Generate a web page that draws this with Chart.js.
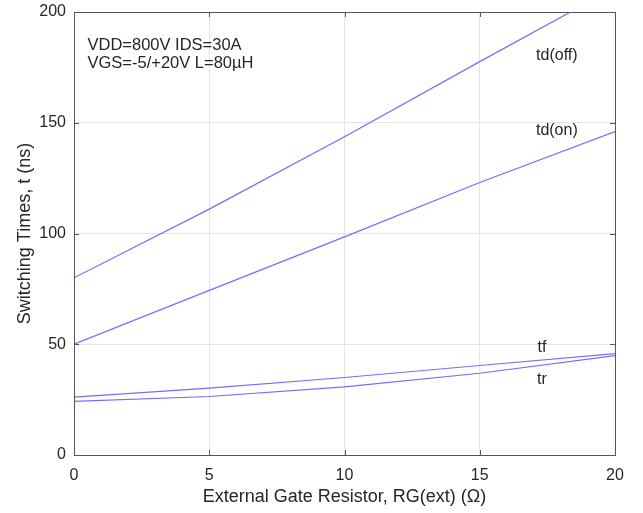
<!DOCTYPE html>
<html>
<head>
<meta charset="utf-8">
<script src="https://cdn.jsdelivr.net/npm/chart.js@4/dist/chart.umd.min.js"></script>
<style>
  body { margin: 0; background: #fff; }
  canvas { display: block; }
</style>
</head>
<body>
<canvas id="swChart" width="643" height="513"></canvas>
<script>
// gate resistor values (ohm)
const rg = [0, 5, 10, 15, 20];
// switching times (ns)
const tdOff = [80, 111, 143.7, 177.6, 211];
const tdOn = [50, 74.3, 98.5, 123, 146];
const tf = [26.1, 30.2, 35, 40.4, 45.8];
const tr = [24.2, 26.4, 30.8, 36.9, 44.9];

const curveLabels = [
  { text: "td(off)", x: 17.85, y: 180.5 },
  { text: "td(on)", x: 17.85, y: 146.5 },
  { text: "tf", x: 17.3, y: 48.6 },
  { text: "tr", x: 17.3, y: 34 },
];
const noteLines = ["VDD=800V IDS=30A", "VGS=-5/+20V L=80µH"];

const lineColor = "#6f6fff";
const textColor = "#262626";
const fontFamily = "'Liberation Sans', Arial, sans-serif";

function toPoints(ys) {
  return rg.map((x, i) => ({ x: x, y: ys[i] }));
}

function series(ys) {
  return {
    data: toPoints(ys),
    borderColor: lineColor,
    borderWidth: 1.2,
    pointRadius: 0,
    fill: false,
    tension: 0,
  };
}

// text labels and inside ticks, octave style
const decorations = {
  id: "decorations",
  afterDraw(chart) {
    const c = chart.ctx;
    const xs = chart.scales.x;
    const ys = chart.scales.y;
    const a = chart.chartArea;
    c.save();
    c.strokeStyle = "#555";
    c.lineWidth = 1;
    c.beginPath();
    [0, 5, 10, 15, 20].forEach((v) => {
      const px = Math.round(xs.getPixelForValue(v)) + 0.5;
      c.moveTo(px, a.bottom); c.lineTo(px, a.bottom - 5);
      c.moveTo(px, a.top); c.lineTo(px, a.top + 5);
    });
    [0, 50, 100, 150, 200].forEach((v) => {
      const py = Math.round(ys.getPixelForValue(v)) + 0.5;
      c.moveTo(a.left, py); c.lineTo(a.left + 5, py);
      c.moveTo(a.right, py); c.lineTo(a.right - 5, py);
    });
    c.stroke();
    c.strokeRect(a.left + 0.5, a.top + 0.5, a.right - a.left, a.bottom - a.top);

    c.fillStyle = textColor;
    c.font = "16px " + fontFamily;
    c.textBaseline = "middle";
    c.textAlign = "center";
    curveLabels.forEach((l) => {
      c.fillText(l.text, xs.getPixelForValue(l.x), ys.getPixelForValue(l.y));
    });
    c.textAlign = "left";
    c.font = "16.5px " + fontFamily;
    c.fillText(noteLines[0], xs.getPixelForValue(0.5), ys.getPixelForValue(185));
    c.fillText(noteLines[1], xs.getPixelForValue(0.5), ys.getPixelForValue(176.8));
    c.restore();
  },
};

const ctx = document.getElementById("swChart");
new Chart(ctx, {
  type: "line",
  data: {
    datasets: [series(tdOff), series(tdOn), series(tf), series(tr)],
  },
  options: {
    responsive: false,
    animation: false,
    layout: { padding: { top: 12, right: 28, left: 0, bottom: 0 } },
    plugins: { legend: { display: false }, tooltip: { enabled: false } },
    scales: {
      x: {
        type: "linear",
        min: 0,
        max: 20,
        ticks: {
          stepSize: 5,
          color: textColor,
          padding: 11,
          font: { family: fontFamily, size: 16 },
        },
        grid: { color: "#e4e4e4", drawTicks: false },
        border: { display: false },
        title: {
          display: true,
          text: "External Gate Resistor, RG(ext) (Ω)",
          color: textColor,
          padding: { top: 0, bottom: 5 },
          font: { family: fontFamily, size: 18 },
        },
        afterFit(scale) {
          scale.height = 58;
          scale.paddingLeft = 0;
          scale.paddingRight = 0;
        },
      },
      y: {
        min: 0,
        max: 200,
        ticks: {
          stepSize: 50,
          color: textColor,
          padding: 8,
          font: { family: fontFamily, size: 16 },
        },
        grid: { color: "#e4e4e4", drawTicks: false },
        border: { display: false },
        title: {
          display: true,
          text: "Switching Times, t (ns)",
          color: textColor,
          padding: { top: 14, bottom: 0 },
          font: { family: fontFamily, size: 18 },
        },
        afterFit(scale) {
          scale.width = 74;
          scale.paddingTop = 0;
          scale.paddingBottom = 0;
        },
      },
    },
  },
  plugins: [decorations],
});
</script>
</body>
</html>
